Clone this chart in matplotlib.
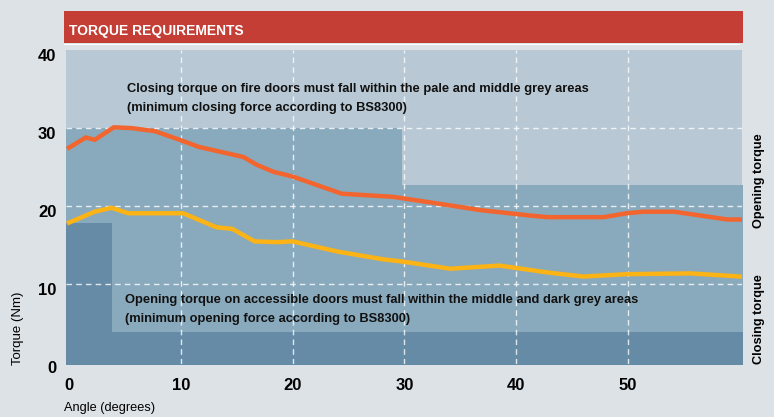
import matplotlib
matplotlib.use("Agg")
import matplotlib.pyplot as plt
import matplotlib.transforms as mtransforms
from matplotlib.patches import Rectangle
from matplotlib import font_manager

# Curve data (angle in degrees, torque in Nm)
closing_angle = [0, 1.5, 2.3, 4.0, 5.6, 7.7, 9.9, 11.6, 15.6, 16.8, 18.3, 20.0,
                 24.4, 29.0, 34.1, 36.8, 41.3, 42.8, 47.8, 49.9, 51.4, 54.1, 58.9, 60.0]
closing_torque = [27.5, 28.8, 28.5, 30.1, 30.0, 29.6, 28.5, 27.6, 26.3, 25.3, 24.4, 23.8,
                  21.6, 21.2, 20.1, 19.5, 18.8, 18.6, 18.6, 19.1, 19.3, 19.3, 18.3, 18.3]

opening_angle = [0, 2.3, 3.8, 5.3, 10.2, 13.2, 14.6, 16.6, 18.6, 20.0, 24.0, 28.1,
                 29.9, 34.1, 38.5, 42.9, 46.0, 49.9, 55.6, 60.0]
opening_torque = [17.9, 19.3, 19.8, 19.1, 19.1, 17.3, 17.1, 15.5, 15.4, 15.5, 14.2, 13.2,
                  12.9, 12.0, 12.4, 11.5, 11.0, 11.3, 11.4, 11.0]

# Requirement zones (step outlines)
closing_zone_x = [-0.3, 29.8, 60.3]
closing_zone_top = [30.0, 22.7, 22.7]
opening_zone_x = [-0.3, 3.85, 60.3]
opening_zone_top = [17.8, 3.9, 3.9]

x_ticks = [0, 10, 20, 30, 40, 50]
y_ticks = [0, 10, 20, 30, 40]

BG = "#dde2e6"
PALE = "#b8c8d4"
MIDDLE = "#89a9bc"
DARK = "#668ba6"
RED = "#c43e35"
ORANGE = "#f2652f"
YELLOW = "#fbb316"

names = {f.name for f in font_manager.fontManager.ttflist}
narrow = "Liberation Sans Narrow" if "Liberation Sans Narrow" in names else "Liberation Sans"
plt.rcParams["font.family"] = [narrow, "DejaVu Sans"]

fig = plt.figure(figsize=(7.74, 4.17), dpi=100, facecolor=BG)
ax = fig.add_axes([66 / 774, 1 - 364 / 417, 676 / 774, 314 / 417])
ax.set_facecolor(PALE)
ax.set_xlim(-0.27, 60.2)
ax.set_ylim(-0.2, 40)

ax.fill_between(closing_zone_x, -1, closing_zone_top, step="post", color=MIDDLE, lw=0, zorder=1)
ax.fill_between(opening_zone_x, -1, opening_zone_top, step="post", color=DARK, lw=0, zorder=1.5)

for xv in x_ticks[1:]:
    ax.axvline(xv, color="white", lw=1, ls=(0, (4, 3)), alpha=0.8, zorder=2)
for yv in y_ticks[1:-1]:
    ax.axhline(yv, color="white", lw=1, ls=(0, (4, 3)), alpha=0.8, zorder=2)

ax.plot(closing_angle, closing_torque, color=ORANGE, lw=3.2, zorder=4, solid_joinstyle="miter")
ax.plot(opening_angle, opening_torque, color=YELLOW, lw=3.2, zorder=4, solid_joinstyle="miter")

for s in ax.spines.values():
    s.set_visible(False)
ax.tick_params(length=0)
ax.set_xticks(x_ticks)
ax.set_yticks(y_ticks)
ax.set_xticklabels([str(v) for v in x_ticks], fontsize=12, fontweight="bold")
ax.set_yticklabels([str(v) for v in y_ticks], fontsize=12, fontweight="bold")
ax.tick_params(axis="x", pad=10)
ax.tick_params(axis="y", pad=7)
shift = mtransforms.ScaledTranslation(0, -5 / 100, fig.dpi_scale_trans)
for lab in ax.get_yticklabels():
    lab.set_transform(lab.get_transform() + shift)

txt = dict(fontsize=9.3, fontweight="bold", color="#111111", va="center", ha="left")
ax.text(5.15, 34.95, "Closing torque on fire doors must fall within the pale and middle grey areas", zorder=5, **txt)
ax.text(5.15, 32.55, "(minimum closing force according to BS8300)", zorder=5, **txt)
ax.text(5.0, 8.0, "Opening torque on accessible doors must fall within the middle and dark grey areas", zorder=5, **txt)
ax.text(5.0, 5.6, "(minimum opening force according to BS8300)", zorder=5, **txt)

# title bar
fig.add_artist(Rectangle((64 / 774, 1 - 43 / 417), 679 / 774, 32 / 417,
                         transform=fig.transFigure, color=RED, lw=0))
fig.add_artist(Rectangle((64 / 774, 1 - 45 / 417), 676 / 774, 1.2 / 417,
                         transform=fig.transFigure, color="white", lw=0))
fig.text(69 / 774, 1 - 31.5 / 417, "TORQUE REQUIREMENTS", color="white", fontsize=10,
         fontweight="bold", va="center", ha="left")

fig.text(759 / 774, 1 - 181 / 417, "Opening torque", rotation=90, fontsize=9.2,
         fontweight="bold", va="center", ha="center")
fig.text(759 / 774, 1 - 319 / 417, "Closing torque", rotation=90, fontsize=9.2,
         fontweight="bold", va="center", ha="center")
fig.text(18 / 774, 1 - 328 / 417, "Torque (Nm)", rotation=90, fontsize=9.5,
         va="center", ha="center")
fig.text(64 / 774, 1 - 408 / 417, "Angle (degrees)", fontsize=9.2, va="center", ha="left")

fig.savefig("out.png", dpi=100, facecolor=BG)
